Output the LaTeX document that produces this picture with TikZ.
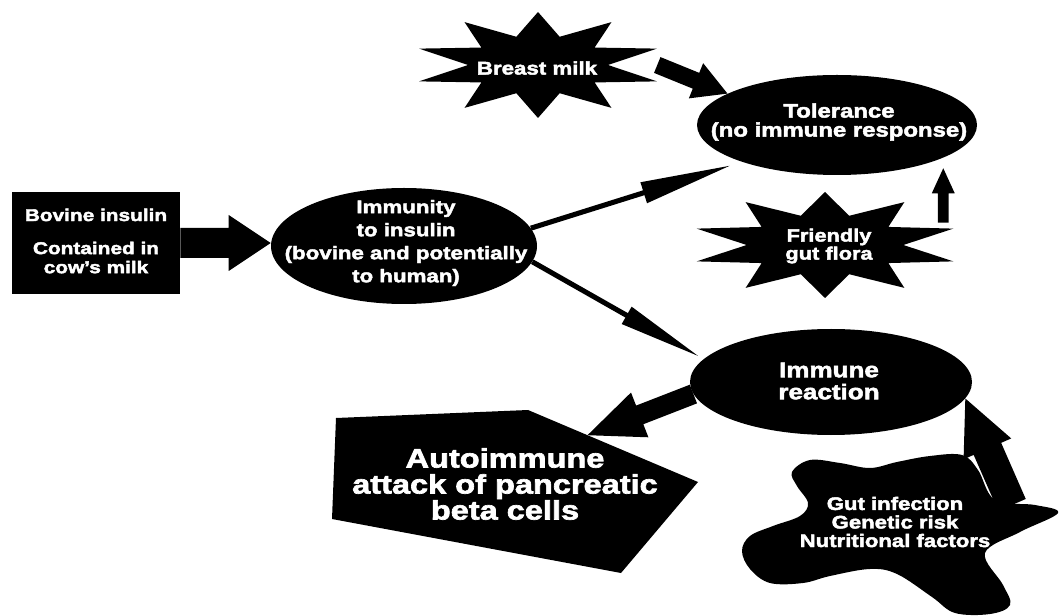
\documentclass[tikz,border=0pt]{standalone}
\usepackage{fontspec}
\setmainfont{Liberation Sans}[FakeStretch=1.22, BoldFeatures={FakeBold=2.5}]
\usetikzlibrary{shapes.geometric, calc}

\tikzset{
  ink/.style={fill=black, draw=none},
  oval/.style={ellipse, fill=black, draw=none, inner sep=0pt},
  lbl/.style 2 args={text=white, align=center, inner sep=0pt,
    font=\bfseries\fontsize{#1}{#2}\selectfont}
}

% block arrow: from, tip, half shaft, half head, head length
\newcommand\blockarrow[5]{%
  \fill let \p1=(#1), \p2=(#2), \n1={atan2(\y2-\y1,\x2-\x1)} in
    ($(#1)+({\n1+90}:#3)$) -- ($(#2)!#5!(#1)+({\n1+90}:#3)$)
    -- ($(#2)!#5!(#1)+({\n1+90}:#4)$) -- (#2)
    -- ($(#2)!#5!(#1)+({\n1-90}:#4)$) -- ($(#2)!#5!(#1)+({\n1-90}:#3)$)
    -- ($(#1)+({\n1-90}:#3)$) -- cycle;}

\begin{document}
\begin{tikzpicture}[x=0.75pt, y=-0.75pt]
  \useasboundingbox (0,0) rectangle (1060,616);

  % shapes
  \node[ink, minimum width=126pt, minimum height=76.5pt] (bovine) at (96,243) {};
  \node[oval, minimum width=199.5pt, minimum height=87pt] (immunity) at (404,246) {};
  \node[oval, minimum width=210pt, minimum height=75pt] (tolerance) at (837,125) {};
  \node[oval, minimum width=211.5pt, minimum height=79.5pt] (reaction) at (831,382) {};
  \node[inner sep=0pt, minimum width=187.5pt, minimum height=79.5pt] (milk) at (538,65) {};
  \node[inner sep=0pt, minimum width=202.5pt, minimum height=79.5pt] (flora) at (825,245) {};

  % stars
  \fill[ink, shift={(milk)}] (90:93.75pt and 39.75pt)
    \foreach \k in {1,...,19} { -- ({90+18*\k}:{93.75pt*(1-0.44*mod(\k,2))} and {39.75pt*(1-0.44*mod(\k,2))}) } -- cycle;
  \fill[ink, shift={(flora)}] (90:101.25pt and 39.75pt)
    \foreach \k in {1,...,19} { -- ({90+18*\k}:{101.25pt*(1-0.42*mod(\k,2))} and {39.75pt*(1-0.42*mod(\k,2))}) } -- cycle;

  % pentagon
  \coordinate (p1) at (336,418);
  \coordinate (p2) at (528,410);
  \coordinate (p3) at (698,482);
  \coordinate (p4) at (621,573);
  \coordinate (p5) at (332,519);
  \fill[ink] (p1) -- (p2) -- (p3) -- (p4) -- (p5) -- cycle;

  % blob
  \fill[ink] plot[smooth cycle, tension=0.6] coordinates {(797,486) (792,472) (810,460)
    (840,463) (870,468) (897,462) (930,456) (962,455) (978,470) (995,500) (1035,505)
    (1058,513) (1020,532) (985,553) (1003,585) (1010,605) (990,614) (955,613) (932,597)
    (897,574) (870,569) (830,576) (803,583) (770,583) (750,569) (742,551) (750,536)
    (773,526) (800,516) (808,503)};

  % arrows
  \coordinate (milkout) at ([xshift=-4.5pt]milk.east);
  \coordinate (floraout) at ([shift={(-12.75pt,-23.25pt)}]flora.north east);
  \coordinate (floratip) at ($(floraout |- tolerance.south)+(0,-7)$);
  \coordinate (uptip) at ([shift={(-6.75pt,-3.75pt)}]tolerance.200);
  \coordinate (lowtip) at ([xshift=-7.5pt]reaction.168);
  \coordinate (attackin) at ($(p2)!0.35!(p3)$);
  \coordinate (blobout) at (1012,505);
  \coordinate (bovinetip) at (immunity.west |- bovine.east);

  \blockarrow{bovine.east}{bovinetip}{11.25pt}{21pt}{31.5pt}
  \blockarrow{immunity.8}{uptip}{1.9pt}{8.25pt}{67.5pt}
  \blockarrow{immunity.353}{lowtip}{1.9pt}{7.5pt}{61.5pt}
  \blockarrow{milkout}{tolerance.164}{6.4pt}{14.25pt}{25.5pt}
  \blockarrow{floraout}{floratip}{4.1pt}{8.6pt}{18.75pt}
  \blockarrow{reaction.185}{attackin}{7.5pt}{18pt}{42pt}
  \blockarrow{blobout}{reaction.353}{11.25pt}{19.5pt}{41.25pt}

  % labels
  \node[lbl={12.8pt}{14.3pt}] (bovine-t) at (96,241) {Bovine insulin\\[10.5pt]Contained in\\cow's milk};
  \node[lbl={13.7pt}{17.25pt}] (immunity-t) at (406,243) {Immunity\\to insulin\\(bovine and potentially\\to human)};
  \node[lbl={13.7pt}{16pt}] (milk-t) at (537,68) {Breast milk};
  \node[lbl={14.7pt}{14.25pt}] (tolerance-t) at (839,122) {Tolerance\\(no immune response)};
  \node[lbl={13.4pt}{13.5pt}] (flora-t) at (829,246) {Friendly\\gut flora};
  \node[lbl={16pt}{16.5pt}] (reaction-t) at (829,381) {Immune\\reaction};
  \node[lbl={20pt}{19.5pt}] (attack) at (505,484) {Autoimmune\\attack of pancreatic\\beta cells};
  \node[lbl={13.6pt}{13.9pt}] (factors) at (895,522) {Gut infection\\Genetic risk\\Nutritional factors};
\end{tikzpicture}
\end{document}
